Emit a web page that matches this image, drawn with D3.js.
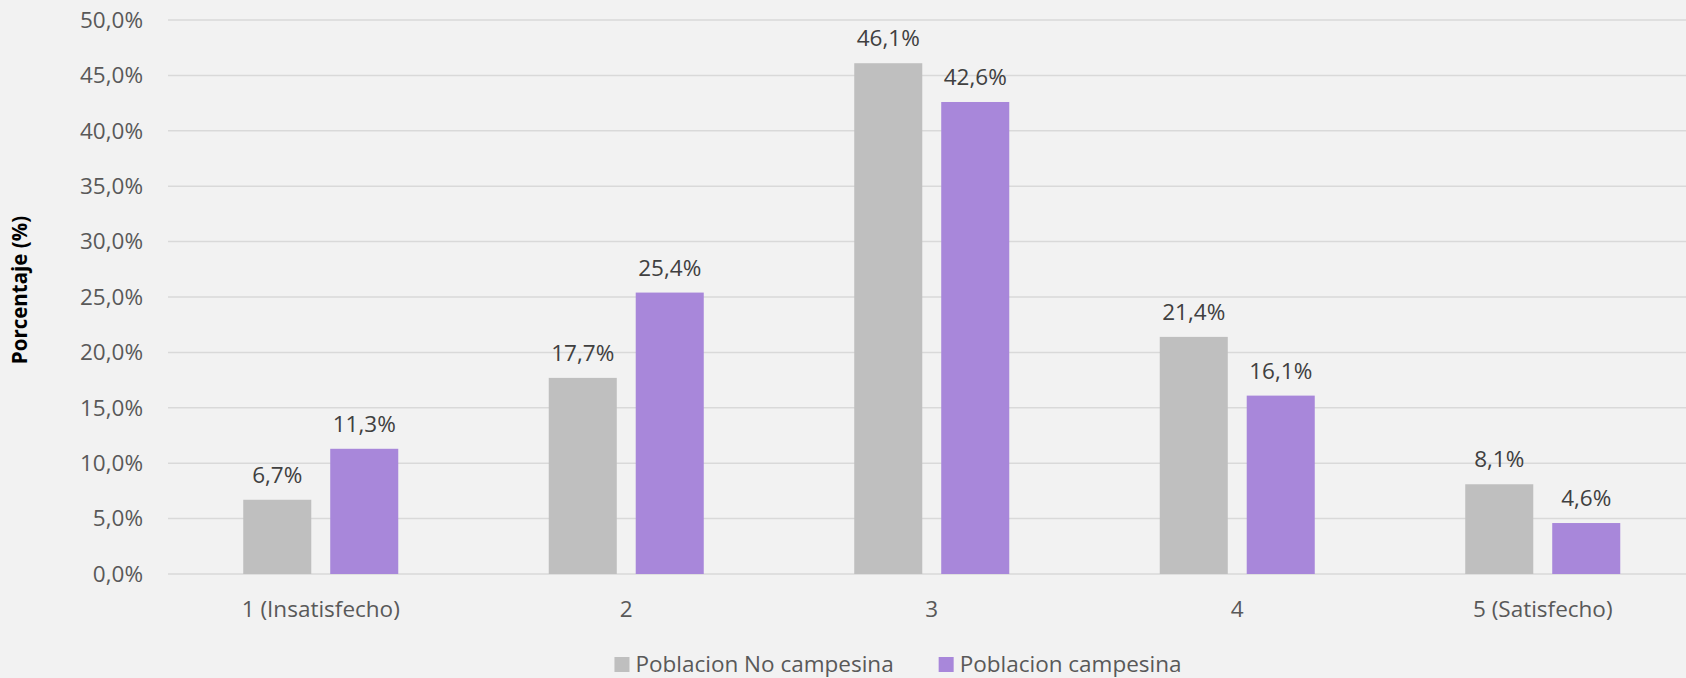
<!DOCTYPE html>
<html>
<head>
<meta charset="utf-8">
<script src="https://cdn.jsdelivr.net/npm/d3@7"></script>
<style>
  html, body { margin: 0; padding: 0; background: #f2f2f2; }
  svg { display: block; font-family: "Open Sans", sans-serif; }
</style>
</head>
<body>
<div id="chart"></div>
<script>
// data
const categories = ["1 (Insatisfecho)", "2", "3", "4", "5 (Satisfecho)"];
const seriesNames = ["Poblacion No campesina", "Poblacion campesina"];
const noCampesina = [6.7, 17.7, 46.1, 21.4, 8.1];
const campesina = [11.3, 25.4, 42.6, 16.1, 4.6];
const yTicks = [0, 5, 10, 15, 20, 25, 30, 35, 40, 45, 50];
const colors = ["#bfbfbf", "#a887da"];

const W = 1686, H = 678;
const plot = { left: 168, right: 1695.5, top: 20, bottom: 574 };

const fmt = v => d3.format(".1f")(v).replace(".", ",") + "%";

const rows = categories.map((c, i) => ({ cat: c, values: [noCampesina[i], campesina[i]] }));

const svg = d3.select("#chart")
  .append("svg")
  .attr("width", W)
  .attr("height", H);

svg.append("rect").attr("width", W).attr("height", H).attr("fill", "#f2f2f2");

const x0 = d3.scaleBand()
  .domain(categories)
  .range([plot.left, plot.right])
  .paddingInner(0.4926)
  .paddingOuter(0.2463);

const x1 = d3.scaleBand()
  .domain([0, 1])
  .range([0, x0.bandwidth()])
  .paddingInner(0.218);

const y = d3.scaleLinear()
  .domain([0, 50])
  .range([plot.bottom, plot.top]);

// gridlines
svg.append("g")
  .selectAll("line")
  .data(yTicks)
  .enter().append("line")
  .attr("x1", plot.left)
  .attr("x2", W)
  .attr("y1", d => y(d))
  .attr("y2", d => y(d))
  .attr("stroke", "#d9d9d9")
  .attr("stroke-width", 1.5);

// y axis labels
const yAxis = svg.append("g")
  .attr("transform", `translate(${plot.left},0)`)
  .call(d3.axisLeft(y).tickValues(yTicks).tickSize(0).tickPadding(25).tickFormat(fmt));
yAxis.select(".domain").remove();
yAxis.selectAll("text")
  .attr("fill", "#595959")
  .style("font-size", "22.5px")
  .style("font-family", "'Open Sans', sans-serif");

// x axis labels
const xAxis = svg.append("g")
  .attr("transform", `translate(0,${plot.bottom})`)
  .call(d3.axisBottom(x0).tickSize(0).tickPadding(0));
xAxis.select(".domain").remove();
xAxis.selectAll("text")
  .attr("y", 43)
  .attr("dy", 0)
  .attr("fill", "#595959")
  .style("font-size", "22.5px")
  .style("font-family", "'Open Sans', sans-serif");

// bars
const groups = svg.append("g")
  .selectAll("g")
  .data(rows)
  .enter().append("g")
  .attr("transform", d => `translate(${x0(d.cat)},0)`);

groups.selectAll("rect")
  .data(d => d.values.map((v, k) => ({ k, v })))
  .enter().append("rect")
  .attr("x", d => x1(d.k))
  .attr("y", d => y(d.v))
  .attr("width", x1.bandwidth())
  .attr("height", d => y(0) - y(d.v))
  .attr("fill", d => colors[d.k]);

groups.selectAll("text")
  .data(d => d.values.map((v, k) => ({ k, v })))
  .enter().append("text")
  .attr("x", d => x1(d.k) + x1.bandwidth() / 2)
  .attr("y", d => y(d.v) - 17)
  .attr("text-anchor", "middle")
  .attr("fill", "#404040")
  .style("font-size", "22.5px")
  .text(d => fmt(d.v));

// y axis title
svg.append("text")
  .attr("transform", "translate(27,290) rotate(-90)")
  .attr("text-anchor", "middle")
  .attr("fill", "#000")
  .style("font-size", "20.5px")
  .style("font-weight", "bold")
  .text("Porcentaje (%)");

// legend
const legend = svg.append("g");
let lx = 0;
seriesNames.forEach((name, k) => {
  const item = legend.append("g").attr("transform", `translate(${lx},0)`);
  item.append("rect")
    .attr("x", 0).attr("y", 657)
    .attr("width", 15).attr("height", 15)
    .attr("fill", colors[k]);
  const t = item.append("text")
    .attr("x", 21).attr("y", 672)
    .attr("fill", "#595959")
    .style("font-size", "22.5px")
    .text(name);
  lx += 21 + t.node().getComputedTextLength() + 45;
});
const legendW = lx - 45;
legend.attr("transform", `translate(${898 - legendW / 2},0)`);
</script>
</body>
</html>
